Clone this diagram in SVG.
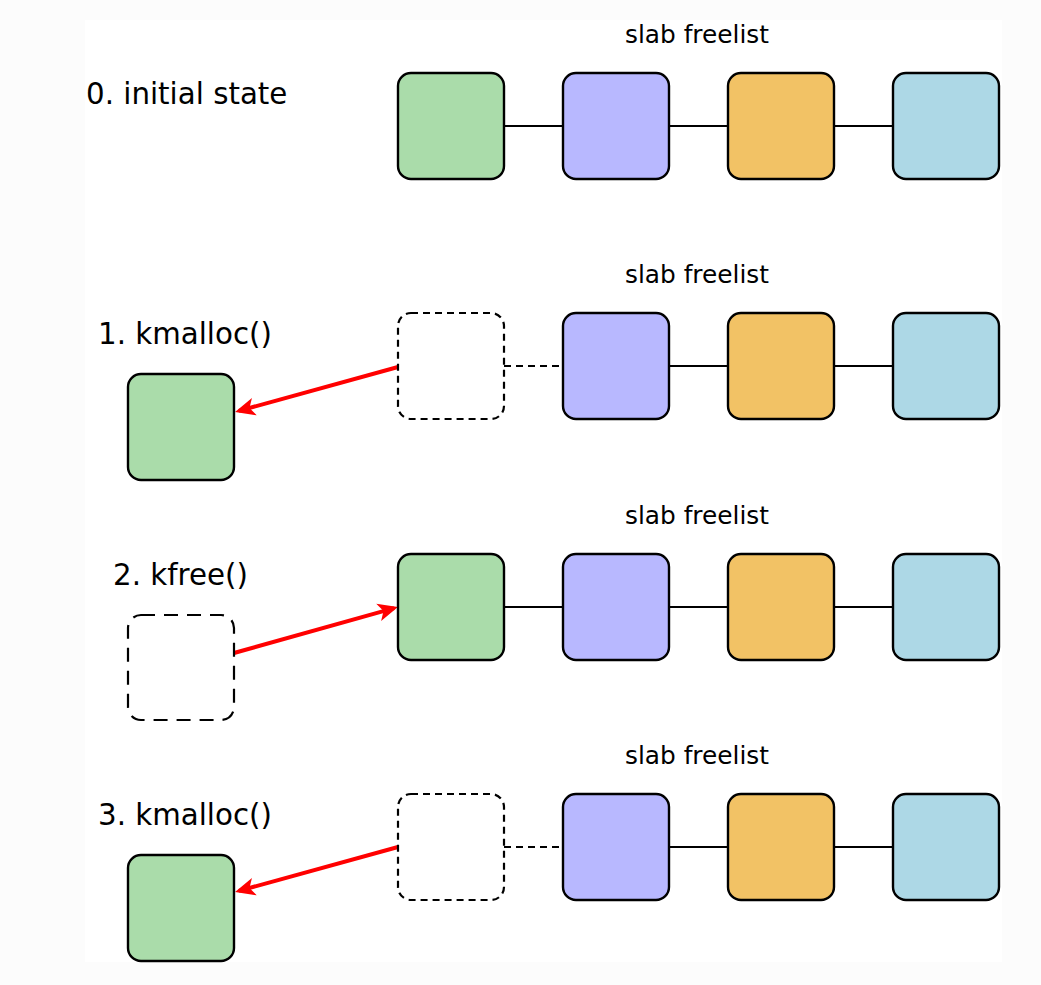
<svg xmlns="http://www.w3.org/2000/svg" width="1041" height="985" viewBox="0 0 1041 985">
<defs>
<style>
.bg{fill:#fcfcfc}
.panel{fill:#ffffff}
.box{stroke:#000;stroke-width:2.4}
.g{fill:#aadcaa}
.p{fill:#b8b8ff}
.o{fill:#f2c265}
.b{fill:#add8e6}
.ghost{fill:none;stroke:#000;stroke-width:2.2;stroke-dasharray:7,5}
.ghost2{fill:none;stroke:#000;stroke-width:2.2;stroke-dasharray:14,9}
.link{stroke:#000;stroke-width:2.2;fill:none}
.dlink{stroke:#000;stroke-width:2.2;fill:none;stroke-dasharray:7,5}
.arr{stroke:#ff0000;stroke-width:4;fill:none;marker-end:url(#ah)}
.lbl{font-family:"DejaVu Sans",sans-serif;font-size:29.3px;fill:#000}
.sl{font-family:"DejaVu Sans",sans-serif;font-size:24.8px;fill:#000;text-anchor:middle}
</style>
<marker id="ah" markerUnits="userSpaceOnUse" markerWidth="26" markerHeight="22" refX="16" refY="0" viewBox="-2 -11 26 22" orient="auto" overflow="visible">
<path d="M20,0 L0,-9 L5,0 L0,9 Z" fill="#ff0000"/>
</marker>
</defs>
<rect class="bg" x="0" y="0" width="1041" height="985"/>
<rect class="panel" x="85" y="20" width="917" height="942"/>

<g id="connectors">
<line class="link" x1="504" y1="126" x2="563" y2="126"/>
<line class="link" x1="669" y1="126" x2="728" y2="126"/>
<line class="link" x1="834" y1="126" x2="893" y2="126"/>
<line class="dlink" x1="504" y1="366" x2="563" y2="366"/>
<line class="link" x1="669" y1="366" x2="728" y2="366"/>
<line class="link" x1="834" y1="366" x2="893" y2="366"/>
<line class="link" x1="504" y1="607" x2="563" y2="607"/>
<line class="link" x1="669" y1="607" x2="728" y2="607"/>
<line class="link" x1="834" y1="607" x2="893" y2="607"/>
<line class="dlink" x1="504" y1="847" x2="563" y2="847"/>
<line class="link" x1="669" y1="847" x2="728" y2="847"/>
<line class="link" x1="834" y1="847" x2="893" y2="847"/>
<line class="arr" x1="398" y1="367" x2="238.9" y2="410.9"/>
<line class="arr" x1="234" y1="653" x2="394.1" y2="608.1"/>
<line class="arr" x1="398" y1="847" x2="238.9" y2="890.9"/>
</g>

<g id="labels">
<text class="sl" x="697" y="43">slab freelist</text>
<text class="sl" x="697" y="283">slab freelist</text>
<text class="sl" x="697" y="524">slab freelist</text>
<text class="sl" x="697" y="764">slab freelist</text>
<text class="lbl" x="86" y="104">0. initial state</text>
<text class="lbl" x="98" y="344">1. kmalloc()</text>
<text class="lbl" x="113" y="585">2. kfree()</text>
<text class="lbl" x="98" y="825">3. kmalloc()</text>
</g>

<g id="row0">
<rect id="r0-green" class="box g" x="398" y="73" width="106" height="106" rx="13"/>
<rect id="r0-purple" class="box p" x="563" y="73" width="106" height="106" rx="13"/>
<rect id="r0-orange" class="box o" x="728" y="73" width="106" height="106" rx="13"/>
<rect id="r0-blue" class="box b" x="893" y="73" width="106" height="106" rx="13"/>
</g>
<g id="row1">
<rect id="r1-ghost" class="ghost" x="398" y="313" width="106" height="106" rx="13"/>
<rect id="r1-purple" class="box p" x="563" y="313" width="106" height="106" rx="13"/>
<rect id="r1-orange" class="box o" x="728" y="313" width="106" height="106" rx="13"/>
<rect id="r1-blue" class="box b" x="893" y="313" width="106" height="106" rx="13"/>
<rect id="r1-alloc" class="box g" x="128" y="374" width="106" height="106" rx="13"/>
</g>
<g id="row2">
<rect id="r2-green" class="box g" x="398" y="554" width="106" height="106" rx="13"/>
<rect id="r2-purple" class="box p" x="563" y="554" width="106" height="106" rx="13"/>
<rect id="r2-orange" class="box o" x="728" y="554" width="106" height="106" rx="13"/>
<rect id="r2-blue" class="box b" x="893" y="554" width="106" height="106" rx="13"/>
<rect id="r2-ghost" class="ghost2" x="128" y="615" width="106" height="105" rx="13"/>
</g>
<g id="row3">
<rect id="r3-ghost" class="ghost" x="398" y="794" width="106" height="106" rx="13"/>
<rect id="r3-purple" class="box p" x="563" y="794" width="106" height="106" rx="13"/>
<rect id="r3-orange" class="box o" x="728" y="794" width="106" height="106" rx="13"/>
<rect id="r3-blue" class="box b" x="893" y="794" width="106" height="106" rx="13"/>
<rect id="r3-alloc" class="box g" x="128" y="855" width="106" height="106" rx="13"/>
</g>
</svg>
